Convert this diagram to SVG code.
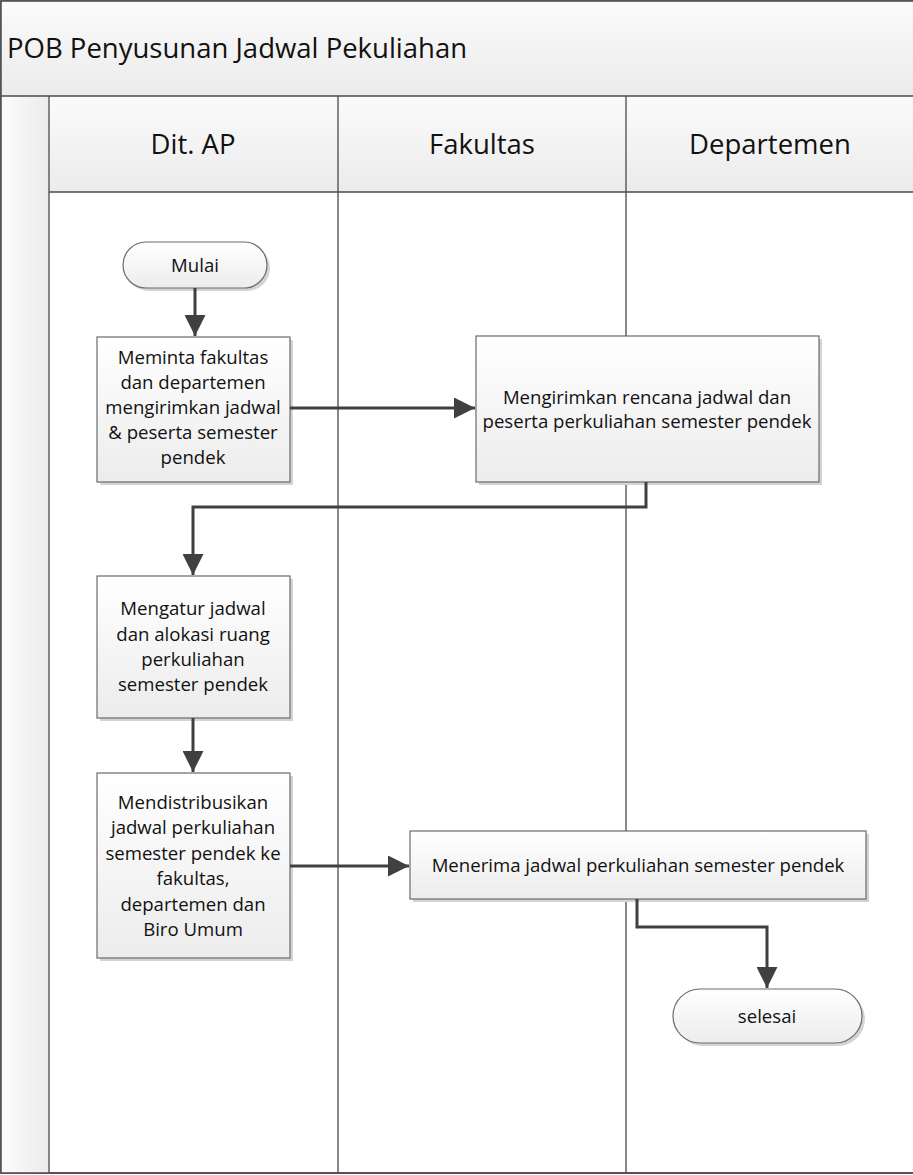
<svg xmlns="http://www.w3.org/2000/svg" width="913" height="1175" viewBox="0 0 913 1175">
<style>
text{font-family:"Open Sans","Liberation Sans",sans-serif;fill:#111;}
.t{font-size:18.6px;text-anchor:middle;}
.h{font-size:27.5px;text-anchor:middle;}
.box{fill:url(#gBox);stroke:#6b6b6b;stroke-width:1.2;}
.sh{fill:#d4d4d4;}
.lane{stroke:#4a4a4a;stroke-width:1.3;fill:none;}
.con{stroke:#404040;stroke-width:3;fill:none;}
</style>
<defs>
<linearGradient id="gBox" x1="0" y1="0" x2="0" y2="1"><stop offset="0" stop-color="#ffffff"/><stop offset="1" stop-color="#ececec"/></linearGradient>
<linearGradient id="gHead" x1="0" y1="0" x2="0" y2="1"><stop offset="0" stop-color="#fbfbfb"/><stop offset="1" stop-color="#ebebeb"/></linearGradient>
<linearGradient id="gSide" x1="0" y1="0" x2="1" y2="0"><stop offset="0" stop-color="#fcfcfc"/><stop offset="1" stop-color="#ebebeb"/></linearGradient>
<marker id="arr" viewBox="0 0 10 10" refX="10" refY="5" markerWidth="7" markerHeight="7" markerUnits="strokeWidth" orient="auto"><path d="M0,0 L10,5 L0,10 Z" fill="#404040"/></marker>
</defs>
<g id="pool">
<rect x="1" y="1" width="913" height="1172" fill="#ffffff" stroke="#4a4a4a" stroke-width="1.5"/>
<rect x="1" y="1" width="913" height="95" fill="url(#gHead)"/>
<rect x="1" y="96" width="48" height="1077" fill="url(#gSide)"/>
<rect x="49" y="96" width="865" height="96" fill="url(#gHead)"/>
<line class="lane" x1="1" y1="96" x2="913" y2="96"/>
<line class="lane" x1="49" y1="192" x2="913" y2="192" stroke="#888"/>
<line class="lane" x1="49" y1="96" x2="49" y2="1173"/>
<line class="lane" x1="338" y1="96" x2="338" y2="1173"/>
<line class="lane" x1="626" y1="96" x2="626" y2="1173"/>
<rect x="1" y="1" width="913" height="1172" fill="none" stroke="#4a4a4a" stroke-width="1.5"/>
<text x="7" y="58" style="font-size:27.5px">POB Penyusunan Jadwal Pekuliahan</text>
<text class="h" x="193" y="154">Dit. AP</text>
<text class="h" x="482" y="154">Fakultas</text>
<text class="h" x="770" y="154">Departemen</text>
</g>
<g id="n-mulai">
<rect class="sh" x="126" y="245" width="144" height="46" rx="23"/>
<rect class="box" x="123" y="242" width="144" height="46" rx="23"/>
<text class="t" x="195" y="272">Mulai</text>
</g>
<g id="n-meminta">
<rect class="sh" x="100" y="340" width="193" height="145"/>
<rect class="box" x="97" y="337" width="193" height="145"/>
<text class="t" x="193" y="364">Meminta fakultas</text>
<text class="t" x="193" y="389">dan departemen</text>
<text class="t" x="193" y="414">mengirimkan jadwal</text>
<text class="t" x="193" y="439">&amp; peserta semester</text>
<text class="t" x="193" y="464">pendek</text>
</g>
<g id="n-mengirimkan">
<rect class="sh" x="479" y="339" width="343" height="146"/>
<rect class="box" x="476" y="336" width="343" height="146"/>
<text class="t" x="647" y="404">Mengirimkan rencana jadwal dan</text>
<text class="t" x="647" y="428">peserta perkuliahan semester pendek</text>
</g>
<g id="n-mengatur">
<rect class="sh" x="100" y="579" width="193" height="142"/>
<rect class="box" x="97" y="576" width="193" height="142"/>
<text class="t" x="193" y="615">Mengatur jadwal</text>
<text class="t" x="193" y="641">dan alokasi ruang</text>
<text class="t" x="193" y="666">perkuliahan</text>
<text class="t" x="193" y="691">semester pendek</text>
</g>
<g id="n-mendistribusikan">
<rect class="sh" x="100" y="776" width="193" height="185"/>
<rect class="box" x="97" y="773" width="193" height="185"/>
<text class="t" x="193" y="809">Mendistribusikan</text>
<text class="t" x="193" y="834">jadwal perkuliahan</text>
<text class="t" x="193" y="860">semester pendek ke</text>
<text class="t" x="193" y="885">fakultas,</text>
<text class="t" x="193" y="911">departemen dan</text>
<text class="t" x="193" y="936">Biro Umum</text>
</g>
<g id="n-menerima">
<rect class="sh" x="413" y="834" width="456" height="68"/>
<rect class="box" x="410" y="831" width="456" height="68"/>
<text class="t" x="638" y="872">Menerima jadwal perkuliahan semester pendek</text>
</g>
<g id="n-selesai">
<rect class="sh" x="676" y="992" width="189" height="54" rx="27"/>
<rect class="box" x="673" y="989" width="189" height="54" rx="27"/>
<text class="t" x="767" y="1023">selesai</text>
</g>
<g id="connectors">
<path class="con" d="M195,288 V336" marker-end="url(#arr)"/>
<path class="con" d="M290,408 H475" marker-end="url(#arr)"/>
<path class="con" d="M646,482 V507 H193 V575" marker-end="url(#arr)"/>
<path class="con" d="M193,718 V772" marker-end="url(#arr)"/>
<path class="con" d="M290,866 H409" marker-end="url(#arr)"/>
<path class="con" d="M637,899 V927 H767 V988" marker-end="url(#arr)"/>
</g>
</svg>
